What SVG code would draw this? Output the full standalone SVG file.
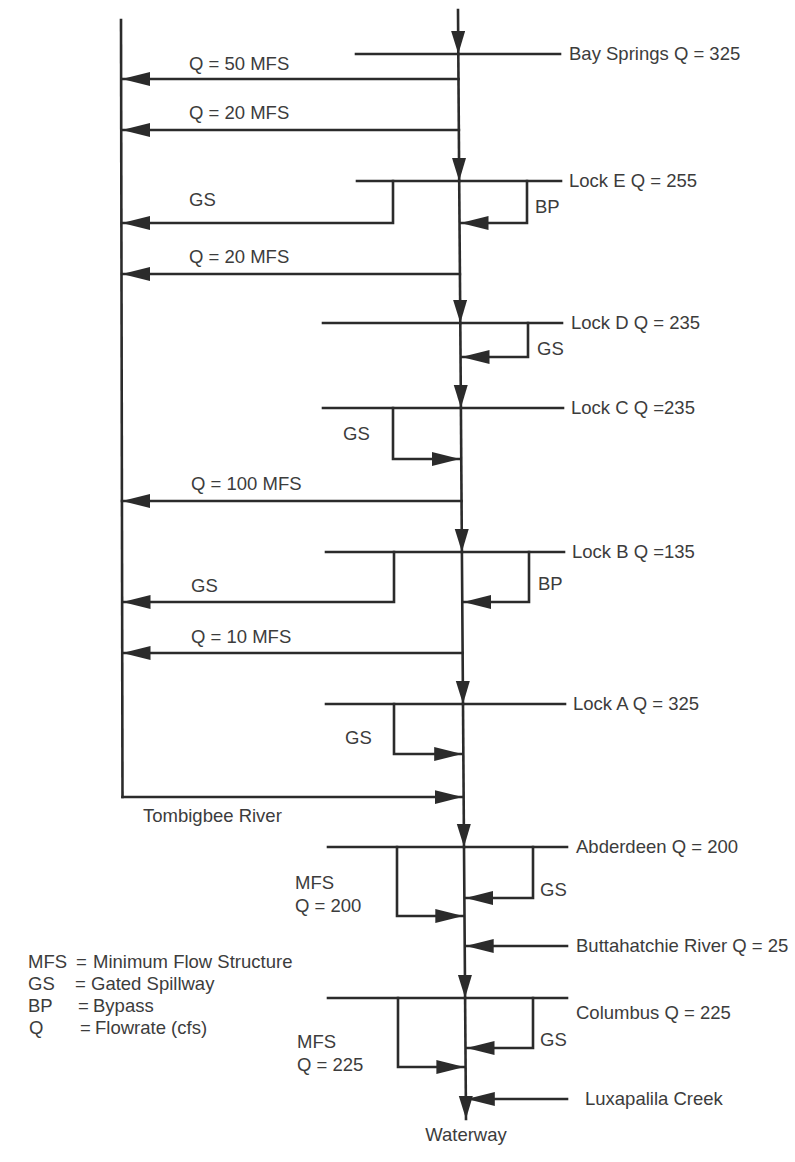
<svg xmlns="http://www.w3.org/2000/svg" width="795" height="1162" viewBox="0 0 795 1162">
<style>
.ln{stroke:#2b2b2b;stroke-width:2.6;fill:none;stroke-linecap:square}
.ah{marker-end:url(#ah)}
.av{marker-end:url(#av)}
text{font-family:"Liberation Sans",Arial,sans-serif;font-size:18.5px;fill:#3c3c3c}
.c{text-anchor:middle}
</style>
<defs>
<marker id="ah" markerUnits="userSpaceOnUse" markerWidth="30" markerHeight="16" refX="28" refY="7" orient="auto">
<path d="M0,0 L28,7 L0,14 Z" fill="#2b2b2b"/>
</marker>
<marker id="av" markerUnits="userSpaceOnUse" markerWidth="26" markerHeight="16" refX="23" refY="7" orient="auto">
<path d="M0,0 L23,7 L0,14 Z" fill="#2b2b2b"/>
</marker>
</defs>
<rect width="795" height="1162" fill="#ffffff"/>

<g id="connectors">
  <!-- main waterway -->
  <line class="ln av" x1="458" y1="10" x2="458.3" y2="54"/>
  <line class="ln av" x1="458.3" y1="54" x2="459.2" y2="181"/>
  <line class="ln av" x1="459.2" y1="181" x2="460.3" y2="323"/>
  <line class="ln av" x1="460.3" y1="323" x2="460.9" y2="408"/>
  <line class="ln av" x1="460.9" y1="408" x2="461.9" y2="552"/>
  <line class="ln av" x1="461.9" y1="552" x2="463" y2="704"/>
  <line class="ln av" x1="463" y1="704" x2="464" y2="847"/>
  <line class="ln av" x1="464" y1="847" x2="465.1" y2="998"/>
  <line class="ln av" x1="465.1" y1="998" x2="466" y2="1119"/>
  <!-- Tombigbee River (left) -->
  <line class="ln" x1="121" y1="20" x2="122.5" y2="797"/>
  <line class="ln ah" x1="122.5" y1="797" x2="462.5" y2="797"/>
  <!-- MFS outflows -->
  <line class="ln ah" x1="458.5" y1="79" x2="122" y2="79"/>
  <line class="ln ah" x1="458.9" y1="130" x2="122" y2="130"/>
  <line class="ln ah" x1="459.9" y1="274" x2="122" y2="274"/>
  <line class="ln ah" x1="461.5" y1="501" x2="122" y2="501"/>
  <line class="ln ah" x1="462.6" y1="653" x2="122.5" y2="653"/>
  <!-- Lock E branches -->
  <polyline class="ln ah" points="393,181 393,223 122,223"/>
  <polyline class="ln ah" points="527,181 527,223 460.5,223"/>
  <!-- Lock D -->
  <polyline class="ln ah" points="528,323 528,357 461.5,357"/>
  <!-- Lock C -->
  <polyline class="ln ah" points="393,408 393,459 460,459"/>
  <!-- Lock B -->
  <polyline class="ln ah" points="394,552 394,602 122.5,602"/>
  <polyline class="ln ah" points="529,552 529,602 463.3,602"/>
  <!-- Lock A -->
  <polyline class="ln ah" points="394,704 394,754 462.2,754"/>
  <!-- Abderdeen -->
  <polyline class="ln ah" points="397,847 397,916 463.3,916"/>
  <polyline class="ln ah" points="533,847 533,898 465.4,898"/>
  <!-- Buttahatchie -->
  <line class="ln ah" x1="567" y1="946" x2="465.7" y2="946"/>
  <!-- Columbus -->
  <polyline class="ln ah" points="398,998 398,1067 464.4,1067"/>
  <polyline class="ln ah" points="533,998 533,1048 466.5,1048"/>
  <!-- Luxapalila -->
  <line class="ln ah" x1="567" y1="1099" x2="466.8" y2="1099"/>

  <text x="189" y="70">Q = 50 MFS</text>
  <text x="189" y="119">Q = 20 MFS</text>
  <text x="189" y="206">GS</text>
  <text x="535" y="213">BP</text>
  <text x="189" y="263">Q = 20 MFS</text>
  <text x="537" y="355">GS</text>
  <text x="343" y="440">GS</text>
  <text x="191" y="490">Q = 100 MFS</text>
  <text x="191" y="592">GS</text>
  <text x="538" y="590">BP</text>
  <text x="191" y="643">Q = 10 MFS</text>
  <text x="345" y="744">GS</text>
  <text x="143" y="822">Tombigbee River</text>
  <text x="295" y="889">MFS</text>
  <text x="295" y="912">Q = 200</text>
  <text x="540" y="896">GS</text>
  <text x="297" y="1048">MFS</text>
  <text x="297" y="1071">Q = 225</text>
  <text x="540" y="1046">GS</text>
</g>

<g id="bay-springs">
  <line class="ln" x1="356" y1="54" x2="560" y2="54"/>
  <text x="569" y="60">Bay Springs Q = 325</text>
</g>
<g id="lock-e">
  <line class="ln" x1="357" y1="181" x2="561" y2="181"/>
  <text x="569" y="187">Lock E Q = 255</text>
</g>
<g id="lock-d">
  <line class="ln" x1="323" y1="323" x2="562" y2="323"/>
  <text x="571" y="329">Lock D Q = 235</text>
</g>
<g id="lock-c">
  <line class="ln" x1="323" y1="408" x2="563" y2="408"/>
  <text x="571" y="414">Lock C Q =235</text>
</g>
<g id="lock-b">
  <line class="ln" x1="326" y1="552" x2="564" y2="552"/>
  <text x="572" y="558">Lock B Q =135</text>
</g>
<g id="lock-a">
  <line class="ln" x1="326" y1="704" x2="565" y2="704"/>
  <text x="573" y="710">Lock A Q = 325</text>
</g>
<g id="abderdeen">
  <line class="ln" x1="328" y1="847" x2="567" y2="847"/>
  <text x="576" y="853">Abderdeen Q = 200</text>
</g>
<g id="buttahatchie">
  <text x="576" y="952">Buttahatchie River Q = 25</text>
</g>
<g id="columbus">
  <line class="ln" x1="328" y1="998" x2="567" y2="998"/>
  <text x="576" y="1019">Columbus Q = 225</text>
</g>
<g id="luxapalila">
  <text x="585" y="1105">Luxapalila Creek</text>
</g>
<g id="waterway">
  <text class="c" x="466" y="1141">Waterway</text>
</g>

<g id="legend">
  <text x="28" y="968">MFS</text><text x="76" y="968">=</text><text x="93" y="968">Minimum Flow Structure</text>
  <text x="28" y="990">GS</text><text x="75" y="990">=</text><text x="91" y="990">Gated Spillway</text>
  <text x="28" y="1012">BP</text><text x="78" y="1012">=</text><text x="93" y="1012">Bypass</text>
  <text x="29" y="1034">Q</text><text x="80" y="1034">=</text><text x="95" y="1034">Flowrate (cfs)</text>
</g>
</svg>
